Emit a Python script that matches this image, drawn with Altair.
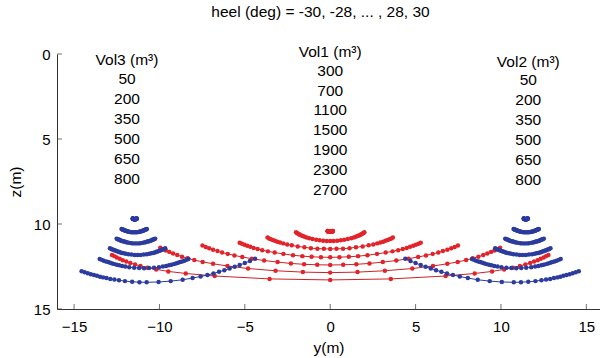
import altair as alt
import pandas as pd

# ---------------- data ----------------
HEEL = [-30, -28, -26, -24, -22, -20, -18, -16, -14, -12, -10, -8, -6, -4, -2,
        0, 2, 4, 6, 8, 10, 12, 14, 16, 18, 20, 22, 24, 26, 28, 30]

# Vol1 (centre tank, red)
V1_2700_Y = [-0.15,-0.15,-0.14,-0.14,-0.13,-0.13,-0.12,-0.11,-0.10,-0.09,-0.08,-0.06,-0.05,-0.03,-0.02,0,0.02,0.03,0.05,0.06,0.08,0.09,0.10,0.11,0.12,0.13,0.13,0.14,0.14,0.15,0.15]
V1_2700_Z = [10.41,10.41,10.42,10.42,10.42,10.42,10.43,10.43,10.43,10.44,10.44,10.44,10.45,10.45,10.45,10.45,10.45,10.45,10.45,10.44,10.44,10.44,10.43,10.43,10.43,10.42,10.42,10.42,10.42,10.41,10.41]
V1_2300_Y = [-2.00,-1.95,-1.90,-1.83,-1.77,-1.69,-1.60,-1.50,-1.38,-1.23,-1.03,-0.82,-0.62,-0.41,-0.20,0,0.20,0.41,0.62,0.82,1.03,1.23,1.38,1.50,1.60,1.69,1.77,1.83,1.90,1.95,2.00]
V1_2300_Z = [10.49,10.53,10.56,10.60,10.63,10.67,10.71,10.75,10.79,10.84,10.88,10.93,10.96,10.98,11.00,11.00,11.00,10.98,10.96,10.93,10.88,10.84,10.79,10.75,10.71,10.67,10.63,10.60,10.56,10.53,10.49]
V1_1900_Y = [-3.67,-3.58,-3.48,-3.37,-3.24,-3.10,-2.94,-2.75,-2.52,-2.25,-1.90,-1.51,-1.13,-0.75,-0.37,0,0.37,0.75,1.13,1.51,1.90,2.25,2.52,2.75,2.94,3.10,3.24,3.37,3.48,3.58,3.67]
V1_1900_Z = [10.80,10.85,10.89,10.94,10.99,11.04,11.09,11.14,11.20,11.25,11.32,11.37,11.42,11.45,11.46,11.47,11.46,11.45,11.42,11.37,11.32,11.25,11.20,11.14,11.09,11.04,10.99,10.94,10.89,10.85,10.80]
V1_1500_Y = [-5.30,-5.17,-5.02,-4.86,-4.68,-4.48,-4.25,-3.98,-3.65,-3.25,-2.74,-2.18,-1.63,-1.09,-0.54,0,0.54,1.09,1.63,2.18,2.74,3.25,3.65,3.98,4.25,4.48,4.68,4.86,5.02,5.17,5.30]
V1_1500_Z = [11.10,11.16,11.22,11.28,11.34,11.41,11.47,11.54,11.61,11.68,11.76,11.84,11.89,11.93,11.95,11.96,11.95,11.93,11.89,11.84,11.76,11.68,11.61,11.54,11.47,11.41,11.34,11.28,11.22,11.16,11.10]
V1_1100_Y = [-7.48,-7.29,-7.09,-6.86,-6.60,-6.33,-6.00,-5.61,-5.15,-4.59,-3.87,-3.08,-2.30,-1.53,-0.76,0,0.76,1.53,2.30,3.08,3.87,4.59,5.15,5.61,6.00,6.33,6.60,6.86,7.09,7.29,7.48]
V1_1100_Z = [11.27,11.35,11.43,11.51,11.59,11.68,11.76,11.85,11.94,12.04,12.15,12.24,12.32,12.37,12.40,12.41,12.40,12.37,12.32,12.24,12.15,12.04,11.94,11.85,11.76,11.68,11.59,11.51,11.43,11.35,11.27]
V1_700_Y = [-9.95,-9.79,-9.62,-9.42,-9.20,-8.96,-8.68,-8.35,-7.96,-7.47,-6.86,-6.02,-4.81,-3.20,-1.60,0,1.60,3.20,4.81,6.02,6.86,7.47,7.96,8.35,8.68,8.96,9.20,9.42,9.62,9.79,9.95]
V1_700_Z = [11.39,11.48,11.56,11.64,11.74,11.83,11.92,12.02,12.12,12.23,12.34,12.47,12.62,12.75,12.83,12.86,12.83,12.75,12.62,12.47,12.34,12.23,12.12,12.02,11.92,11.83,11.74,11.64,11.56,11.48,11.39]
V1_300_Y = [-12.78,-12.64,-12.50,-12.33,-12.15,-11.94,-11.71,-11.43,-11.11,-10.70,-10.19,-9.48,-8.46,-6.76,-3.55,0,3.55,6.76,8.46,9.48,10.19,10.70,11.11,11.43,11.71,11.94,12.15,12.33,12.50,12.64,12.78]
V1_300_Z = [11.82,11.89,11.97,12.05,12.13,12.21,12.29,12.38,12.47,12.57,12.67,12.79,12.91,13.06,13.23,13.29,13.23,13.06,12.91,12.79,12.67,12.57,12.47,12.38,12.29,12.21,12.13,12.05,11.97,11.89,11.82]

# Vol3 (port wing tank, blue)
V3_50_Y = [-14.56,-14.38,-14.20,-14.02,-13.84,-13.66,-13.48,-13.30,-13.10,-12.88,-12.64,-12.37,-12.02,-11.60,-11.17,-10.75,-10.05,-9.34,-8.64,-8.06,-7.59,-7.19,-6.84,-6.51,-6.20,-5.89,-5.59,-5.30,-5.00,-4.70,-4.40]
V3_50_Z = [12.78,12.84,12.90,12.95,13.00,13.05,13.10,13.14,13.18,13.23,13.27,13.31,13.36,13.40,13.42,13.43,13.41,13.36,13.28,13.18,13.09,13.00,12.91,12.81,12.72,12.62,12.52,12.41,12.30,12.18,12.05]
V3_200_Y = [-13.50,-13.38,-13.26,-13.13,-13.01,-12.89,-12.76,-12.64,-12.50,-12.36,-12.19,-12.00,-11.77,-11.48,-11.19,-10.90,-10.61,-10.32,-10.03,-9.80,-9.61,-9.44,-9.30,-9.16,-9.04,-8.91,-8.79,-8.67,-8.54,-8.42,-8.30]
V3_200_Z = [12.06,12.11,12.16,12.20,12.24,12.28,12.32,12.36,12.40,12.43,12.47,12.50,12.54,12.57,12.59,12.60,12.59,12.57,12.54,12.50,12.47,12.43,12.40,12.36,12.32,12.28,12.24,12.20,12.16,12.11,12.06]
V3_350_Y = [-12.90,-12.82,-12.75,-12.67,-12.60,-12.52,-12.44,-12.36,-12.28,-12.19,-12.09,-11.97,-11.82,-11.64,-11.46,-11.28,-11.10,-10.92,-10.74,-10.59,-10.47,-10.37,-10.28,-10.20,-10.12,-10.04,-9.96,-9.89,-9.81,-9.74,-9.66]
V3_350_Z = [11.43,11.47,11.50,11.53,11.56,11.59,11.62,11.65,11.67,11.70,11.72,11.75,11.78,11.80,11.82,11.82,11.82,11.80,11.78,11.75,11.72,11.70,11.67,11.65,11.62,11.59,11.56,11.53,11.50,11.47,11.43]
V3_500_Y = [-12.51,-12.46,-12.40,-12.35,-12.30,-12.24,-12.19,-12.13,-12.08,-12.01,-11.94,-11.86,-11.76,-11.63,-11.51,-11.38,-11.25,-11.13,-11.00,-10.90,-10.82,-10.75,-10.68,-10.63,-10.57,-10.52,-10.46,-10.41,-10.36,-10.30,-10.25]
V3_500_Z = [10.86,10.89,10.91,10.93,10.96,10.98,11.00,11.02,11.03,11.05,11.07,11.09,11.11,11.13,11.14,11.14,11.14,11.13,11.11,11.09,11.07,11.05,11.03,11.02,11.00,10.98,10.96,10.93,10.91,10.89,10.86]
V3_650_Y = [-12.22,-12.19,-12.15,-12.12,-12.08,-12.05,-12.01,-11.97,-11.94,-11.89,-11.85,-11.79,-11.73,-11.64,-11.56,-11.48,-11.40,-11.32,-11.23,-11.17,-11.11,-11.07,-11.02,-10.99,-10.95,-10.91,-10.88,-10.84,-10.81,-10.77,-10.74]
V3_650_Z = [10.29,10.31,10.33,10.34,10.36,10.37,10.39,10.40,10.41,10.43,10.44,10.45,10.47,10.48,10.49,10.49,10.49,10.48,10.47,10.45,10.44,10.43,10.41,10.40,10.39,10.37,10.36,10.34,10.33,10.31,10.29]
V3_800_Y = [-11.57,-11.56,-11.56,-11.55,-11.55,-11.54,-11.54,-11.53,-11.52,-11.52,-11.51,-11.50,-11.49,-11.48,-11.46,-11.45,-11.44,-11.42,-11.41,-11.40,-11.39,-11.38,-11.38,-11.37,-11.36,-11.36,-11.35,-11.35,-11.34,-11.34,-11.33]
V3_800_Z = [9.68,9.68,9.69,9.69,9.69,9.70,9.70,9.71,9.71,9.71,9.71,9.71,9.72,9.72,9.72,9.72,9.72,9.72,9.72,9.71,9.71,9.71,9.71,9.71,9.70,9.70,9.69,9.69,9.69,9.68,9.68]

# Vol2 (starboard wing tank, blue)
V2_50_Y = [4.40,4.70,5.00,5.30,5.59,5.89,6.20,6.51,6.84,7.19,7.59,8.06,8.64,9.34,10.05,10.75,11.17,11.60,12.02,12.37,12.64,12.88,13.10,13.30,13.48,13.66,13.84,14.02,14.20,14.38,14.56]
V2_50_Z = [12.05,12.18,12.30,12.41,12.52,12.62,12.72,12.81,12.91,13.00,13.09,13.18,13.28,13.36,13.41,13.43,13.42,13.40,13.36,13.31,13.27,13.23,13.18,13.14,13.10,13.05,13.00,12.95,12.90,12.84,12.78]
V2_200_Y = [8.30,8.42,8.54,8.67,8.79,8.91,9.04,9.16,9.30,9.44,9.61,9.80,10.03,10.32,10.61,10.90,11.19,11.48,11.77,12.00,12.19,12.36,12.50,12.64,12.76,12.89,13.01,13.13,13.26,13.38,13.50]
V2_200_Z = [12.06,12.11,12.16,12.20,12.24,12.28,12.32,12.36,12.40,12.43,12.47,12.50,12.54,12.57,12.59,12.60,12.59,12.57,12.54,12.50,12.47,12.43,12.40,12.36,12.32,12.28,12.24,12.20,12.16,12.11,12.06]
V2_350_Y = [9.66,9.74,9.81,9.89,9.96,10.04,10.12,10.20,10.28,10.37,10.47,10.59,10.74,10.92,11.10,11.28,11.46,11.64,11.82,11.97,12.09,12.19,12.28,12.36,12.44,12.52,12.60,12.67,12.75,12.82,12.90]
V2_350_Z = [11.43,11.47,11.50,11.53,11.56,11.59,11.62,11.65,11.67,11.70,11.72,11.75,11.78,11.80,11.82,11.82,11.82,11.80,11.78,11.75,11.72,11.70,11.67,11.65,11.62,11.59,11.56,11.53,11.50,11.47,11.43]
V2_500_Y = [10.25,10.30,10.36,10.41,10.46,10.52,10.57,10.63,10.68,10.75,10.82,10.90,11.00,11.13,11.25,11.38,11.51,11.63,11.76,11.86,11.94,12.01,12.08,12.13,12.19,12.24,12.30,12.35,12.40,12.46,12.51]
V2_500_Z = [10.86,10.89,10.91,10.93,10.96,10.98,11.00,11.02,11.03,11.05,11.07,11.09,11.11,11.13,11.14,11.14,11.14,11.13,11.11,11.09,11.07,11.05,11.03,11.02,11.00,10.98,10.96,10.93,10.91,10.89,10.86]
V2_650_Y = [10.74,10.77,10.81,10.84,10.88,10.91,10.95,10.99,11.02,11.07,11.11,11.17,11.23,11.32,11.40,11.48,11.56,11.64,11.73,11.79,11.85,11.89,11.94,11.97,12.01,12.05,12.08,12.12,12.15,12.19,12.22]
V2_650_Z = [10.29,10.31,10.33,10.34,10.36,10.37,10.39,10.40,10.41,10.43,10.44,10.45,10.47,10.48,10.49,10.49,10.49,10.48,10.47,10.45,10.44,10.43,10.41,10.40,10.39,10.37,10.36,10.34,10.33,10.31,10.29]
V2_800_Y = [11.33,11.34,11.34,11.35,11.35,11.36,11.36,11.37,11.38,11.38,11.39,11.40,11.41,11.42,11.44,11.45,11.46,11.48,11.49,11.50,11.51,11.52,11.52,11.53,11.54,11.54,11.55,11.55,11.56,11.56,11.57]
V2_800_Z = [9.68,9.68,9.69,9.69,9.69,9.70,9.70,9.71,9.71,9.71,9.71,9.71,9.72,9.72,9.72,9.72,9.72,9.72,9.72,9.71,9.71,9.71,9.71,9.71,9.70,9.70,9.69,9.69,9.69,9.68,9.68]

# annotation texts
VOL3_TEXT = ["Vol3 (m³)", "50", "200", "350", "500", "650", "800"]
VOL3_TZ = [0.35, 1.49, 2.66, 3.84, 5.02, 6.19, 7.37]
VOL3_TX = -11.9
VOL1_TEXT = ["Vol1 (m³)", "300", "700", "1100", "1500", "1900", "2300", "2700"]
VOL1_TZ = [-0.14, 1.0, 2.16, 3.31, 4.47, 5.65, 6.82, 8.02]
VOL1_TX = 0.0
VOL2_TEXT = ["Vol2 (m³)", "50", "200", "350", "500", "650", "800"]
VOL2_TZ = [0.45, 1.53, 2.71, 3.88, 5.06, 6.24, 7.41]
VOL2_TX = 11.6

X_TICKS = [-15, -10, -5, 0, 5, 10, 15]
Z_TICKS = [0, 5, 10, 15]

RED = "#e3232a"
LINE_RED = "#cc2229"
BLUE = "#2b3b9e"
FONT = "Liberation Sans"

# ---------------- build tables ----------------
curves = [
    ("Vol1", "2700", V1_2700_Y, V1_2700_Z), ("Vol1", "2300", V1_2300_Y, V1_2300_Z),
    ("Vol1", "1900", V1_1900_Y, V1_1900_Z), ("Vol1", "1500", V1_1500_Y, V1_1500_Z),
    ("Vol1", "1100", V1_1100_Y, V1_1100_Z), ("Vol1", "700", V1_700_Y, V1_700_Z),
    ("Vol1", "300", V1_300_Y, V1_300_Z),
    ("Vol3", "50", V3_50_Y, V3_50_Z), ("Vol3", "200", V3_200_Y, V3_200_Z),
    ("Vol3", "350", V3_350_Y, V3_350_Z), ("Vol3", "500", V3_500_Y, V3_500_Z),
    ("Vol3", "650", V3_650_Y, V3_650_Z), ("Vol3", "800", V3_800_Y, V3_800_Z),
    ("Vol2", "50", V2_50_Y, V2_50_Z), ("Vol2", "200", V2_200_Y, V2_200_Z),
    ("Vol2", "350", V2_350_Y, V2_350_Z), ("Vol2", "500", V2_500_Y, V2_500_Z),
    ("Vol2", "650", V2_650_Y, V2_650_Z), ("Vol2", "800", V2_800_Y, V2_800_Z),
]
rows = []
for i, (tank, vol, ys, zs) in enumerate(curves):
    for h, y, z in zip(HEEL, ys, zs):
        rows.append({"tank": tank, "curve": f"{tank}_{vol}", "heel": h, "y": y, "z": z, "ord": i})
df = pd.DataFrame(rows)

trows = []
for lab, tz in zip(VOL3_TEXT, VOL3_TZ):
    trows.append({"label": lab, "tx": VOL3_TX, "tz": tz})
for lab, tz in zip(VOL1_TEXT, VOL1_TZ):
    trows.append({"label": lab, "tx": VOL1_TX, "tz": tz})
for lab, tz in zip(VOL2_TEXT, VOL2_TZ):
    trows.append({"label": lab, "tx": VOL2_TX, "tz": tz})
tdf = pd.DataFrame(trows)

xs = alt.Scale(domain=[-16, 15.8], nice=False, zero=False)
zs_ = alt.Scale(domain=[0, 15], reverse=True, nice=False, zero=False)
cs_line = alt.Scale(domain=["Vol1", "Vol2", "Vol3"], range=[LINE_RED, BLUE, BLUE])
cs_pt = alt.Scale(domain=["Vol1", "Vol2", "Vol3"], range=[RED, BLUE, BLUE])

x_axis = alt.Axis(values=X_TICKS, ticks=False, grid=False, domain=True, domainColor="#333333",
                  labelFont=FONT, labelFontSize=15, labelColor="black", labelPadding=10,
                  title="y(m)", titleFont=FONT, titleFontSize=15.5, titleFontWeight="normal",
                  titleColor="black", titlePadding=6)
z_axis = alt.Axis(values=Z_TICKS, ticks=False, grid=False, domain=True, domainColor="#333333",
                  labelFont=FONT, labelFontSize=15, labelColor="black", labelPadding=7,
                  title="z(m)", titleFont=FONT, titleFontSize=15.5, titleFontWeight="normal",
                  titleColor="black", titlePadding=10)

lines = alt.Chart(df).mark_line(strokeWidth=1).encode(
    x=alt.X("y:Q", scale=xs, axis=x_axis),
    y=alt.Y("z:Q", scale=zs_, axis=z_axis),
    color=alt.Color("tank:N", scale=cs_line, legend=None),
    detail="curve:N",
    order="heel:Q",
)
points = alt.Chart(df).mark_circle(size=20, opacity=1).encode(
    x=alt.X("y:Q"),
    y=alt.Y("z:Q"),
    fill=alt.Fill("tank:N", scale=cs_pt, legend=None),
    order="ord:Q",
)
texts = alt.Chart(tdf).mark_text(font=FONT, fontSize=15.5, color="black",
                                 align="center", baseline="middle").encode(
    x=alt.X("tx:Q"),
    y=alt.Y("tz:Q"),
    text="label:N",
)
xt = alt.Chart(pd.DataFrame({"v": X_TICKS})).mark_tick(
    orient="vertical", size=5, thickness=1, yOffset=-2.5, color="#333333").encode(
    x=alt.X("v:Q"),
    y=alt.datum(15),
)
zt = alt.Chart(pd.DataFrame({"v": Z_TICKS})).mark_tick(
    orient="horizontal", size=5, thickness=1, xOffset=2.5, color="#333333").encode(
    y=alt.Y("v:Q"),
    x=alt.datum(-16),
)

chart = alt.layer(lines, points, texts, xt, zt).resolve_scale(color="independent").properties(
    width=543, height=255,
    autosize=alt.AutoSizeParams(type="none"),
    padding={"left": 57, "top": 54, "right": 0, "bottom": 49},
    title=alt.Title("heel (deg) = -30, -28, ... , 28, 30", font=FONT, fontSize=15.5,
                    fontWeight="normal", color="black", anchor="middle", frame="group",
                    offset=24, dx=-8),
    background="white",
).configure_view(stroke=None)

chart.save("out.html", embed_options={"renderer": "svg", "actions": False})
